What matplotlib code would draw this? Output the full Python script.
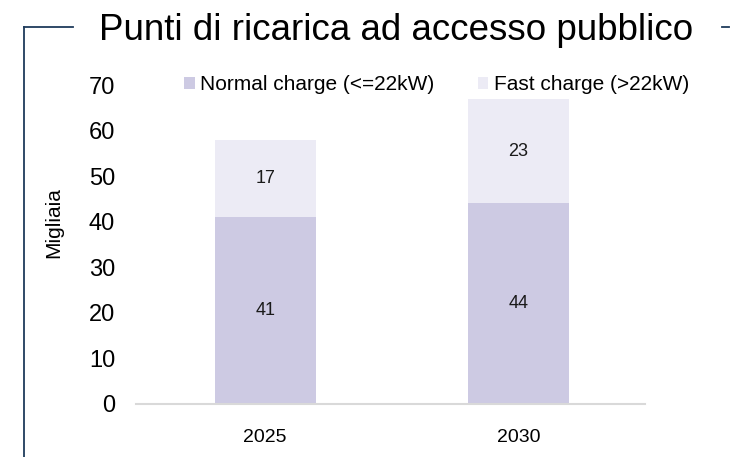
import matplotlib
matplotlib.use("Agg")
import matplotlib.pyplot as plt
from matplotlib.lines import Line2D
import numpy as np

plt.rcParams['font.family'] = ['Liberation Sans', 'DejaVu Sans']

years = ['2025', '2030']
normal = [41, 44]
fast = [17, 23]
series_names = ['Normal charge (<=22kW)', 'Fast charge (>22kW)']
colors = ['#cdcae3', '#ecebf5']

W, H = 730, 457
fig = plt.figure(figsize=(W / 100, H / 100), dpi=100)
ax = fig.add_axes([136 / W, 1 - 404 / H, (645 - 136) / W, (404 - 85) / H])

x = np.arange(len(years))
b1 = ax.bar(x, normal, width=0.4, color=colors[0], label=series_names[0])
b2 = ax.bar(x, fast, width=0.4, bottom=normal, color=colors[1], label=series_names[1])
ax.bar_label(b1, label_type='center', fontsize=13, color='#1a1a1a')
ax.bar_label(b2, label_type='center', fontsize=13, color='#1a1a1a')

ax.set_xlim(-0.51, 1.5)
ax.set_ylim(0, 70)
ax.set_yticks(np.arange(0, 71, 10))
ax.set_xticks(x)
ax.set_xticklabels(years)
ax.tick_params(axis='x', length=0, labelsize=14, pad=18)
ax.tick_params(axis='y', length=0, labelsize=17, pad=15)
for s in ['top', 'right', 'left']:
    ax.spines[s].set_visible(False)
ax.spines['bottom'].set_color('#d9d9d9')
ax.spines['bottom'].set_linewidth(1.5)
ax.set_ylabel('Migliaia', fontsize=15)
ax.yaxis.set_label_coords(-0.143, 0.57)

ax.legend(loc='center left', bbox_to_anchor=(0.095, 1.0), ncol=2, frameon=False,
          fontsize=15, handlelength=0.5, handleheight=0.5, handletextpad=0.25,
          columnspacing=2.1, borderpad=0, borderaxespad=0)

fig.text(396 / W, 1 - 40 / H, 'Punti di ricarica ad accesso pubblico',
         fontsize=26.5, ha='center', va='baseline', color='black')

frame = '#1f3b5c'
fig.add_artist(Line2D([24 / W, 24 / W], [0, 1 - 27 / H], color=frame, lw=1.3))
fig.add_artist(Line2D([24 / W, 73 / W], [1 - 27 / H, 1 - 27 / H], color=frame, lw=1.3))
fig.add_artist(Line2D([722 / W, 729 / W], [1 - 27 / H, 1 - 27 / H], color=frame, lw=1.3))

fig.savefig('out.png', dpi=100)
